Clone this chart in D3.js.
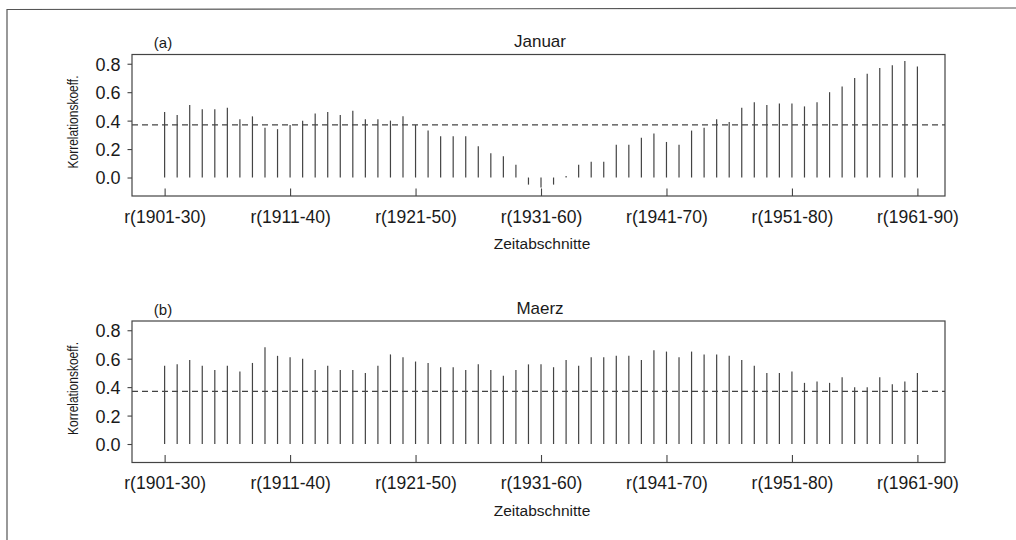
<!DOCTYPE html>
<html>
<head>
<meta charset="utf-8">
<script src="https://cdn.jsdelivr.net/npm/d3@7"></script>
<style>
  body { margin: 0; background: #fff; }
  text { font-family: Arial, 'Liberation Sans', sans-serif; fill: #1a1a1a; }
</style>
</head>
<body>
<script>
// 30-year moving windows r(1901-30) ... r(1961-90)
var startYears = d3.range(1901, 1962);
var tickLabels = ['r(1901-30)', 'r(1911-40)', 'r(1921-50)', 'r(1931-60)', 'r(1941-70)', 'r(1951-80)', 'r(1961-90)'];
var yTicks = [0.0, 0.2, 0.4, 0.6, 0.8];
var threshold = 0.37;

var januar = [
  0.46, 0.44, 0.51, 0.48, 0.48, 0.49, 0.41, 0.43, 0.35, 0.34,
  0.37, 0.40, 0.45, 0.46, 0.44, 0.47, 0.41, 0.41, 0.40, 0.43,
  0.37, 0.33, 0.29, 0.29, 0.29, 0.22, 0.17, 0.15, 0.09, -0.05,
  -0.07, -0.05, 0.01, 0.09, 0.11, 0.11, 0.23, 0.23, 0.28, 0.31,
  0.25, 0.23, 0.33, 0.35, 0.41, 0.39, 0.49, 0.53, 0.51, 0.52,
  0.52, 0.50, 0.53, 0.60, 0.64, 0.70, 0.73, 0.77, 0.79, 0.82,
  0.78
];

var maerz = [
  0.55, 0.56, 0.59, 0.55, 0.52, 0.55, 0.51, 0.57, 0.68, 0.62,
  0.61, 0.60, 0.52, 0.55, 0.52, 0.52, 0.50, 0.55, 0.63, 0.61,
  0.58, 0.57, 0.54, 0.54, 0.52, 0.56, 0.52, 0.48, 0.52, 0.56,
  0.56, 0.54, 0.59, 0.55, 0.61, 0.61, 0.62, 0.62, 0.59, 0.66,
  0.65, 0.61, 0.65, 0.63, 0.63, 0.62, 0.59, 0.55, 0.50, 0.50,
  0.51, 0.43, 0.44, 0.43, 0.47, 0.40, 0.40, 0.47, 0.42, 0.44,
  0.50
];

var panels = [
  {tag: '(a)', title: 'Januar', values: januar, top: 0},
  {tag: '(b)', title: 'Maerz', values: maerz, top: 266.5}
];

var width = 1016;
var height = 540;
var box = {left: 132, right: 945, top: 54.5, bottom: 196};

var svg = d3.select('body').append('svg')
    .attr('width', width)
    .attr('height', height);

// scanned page border
svg.append('path')
    .attr('d', 'M7,540 L7,9.5 L1016,8')
    .attr('fill', 'none')
    .attr('stroke', '#555')
    .attr('stroke-width', 1.2);

var x = d3.scaleLinear()
    .domain([-2.6, 62.2])
    .range([box.left, box.right]);

var y = d3.scaleLinear()
    .domain([-0.13, 0.865])
    .range([box.bottom, box.top]);

panels.forEach(function (p) {
  var g = svg.append('g')
      .attr('transform', 'translate(0,' + p.top + ')');

  // spikes from zero
  g.append('g')
      .selectAll('line')
      .data(p.values)
      .enter().append('line')
      .attr('x1', function (d, i) { return x(i); })
      .attr('x2', function (d, i) { return x(i); })
      .attr('y1', y(0))
      .attr('y2', function (d) { return y(d); })
      .attr('stroke', '#444')
      .attr('stroke-width', 1.2);

  // significance level
  g.append('line')
      .attr('x1', box.left)
      .attr('x2', box.right)
      .attr('y1', y(threshold))
      .attr('y2', y(threshold))
      .attr('stroke', '#444')
      .attr('stroke-width', 1.1)
      .attr('stroke-dasharray', '6,4');

  // frame
  g.append('rect')
      .attr('x', box.left)
      .attr('y', box.top)
      .attr('width', box.right - box.left)
      .attr('height', box.bottom - box.top)
      .attr('fill', 'none')
      .attr('stroke', '#444')
      .attr('stroke-width', 1.2);

  // y axis
  var yAxis = d3.axisLeft(y)
      .tickValues(yTicks)
      .tickFormat(d3.format('.1f'))
      .tickSize(4.5)
      .tickPadding(7);

  var ya = g.append('g')
      .attr('transform', 'translate(' + box.left + ',0)')
      .call(yAxis);
  ya.select('.domain').remove();
  ya.selectAll('line').attr('stroke', '#444').attr('stroke-width', 1.1);
  ya.selectAll('text')
      .style('font-size', '18px')
      .attr('dy', '0.36em')
      .attr('fill', '#1a1a1a');

  // x axis, ticks drawn inward from the frame bottom
  var xAxis = d3.axisBottom(x)
      .tickValues(d3.range(0, 61, 10))
      .tickFormat(function (d, i) { return tickLabels[i]; })
      .tickSizeInner(-7.5)
      .tickSizeOuter(0)
      .tickPadding(14.5);

  var xa = g.append('g')
      .attr('transform', 'translate(0,' + box.bottom + ')')
      .call(xAxis);
  xa.select('.domain').remove();
  xa.selectAll('line').attr('stroke', '#444').attr('stroke-width', 1.1);
  xa.selectAll('text')
      .style('font-size', '17.5px')
      .attr('fill', '#1a1a1a');

  g.append('text')
      .attr('x', 542)
      .attr('y', 249)
      .attr('text-anchor', 'middle')
      .style('font-size', '15.5px')
      .text('Zeitabschnitte');

  g.append('text')
      .attr('transform', 'translate(78,122) rotate(-90)')
      .attr('text-anchor', 'middle')
      .attr('textLength', 93)
      .attr('lengthAdjust', 'spacingAndGlyphs')
      .style('font-size', '15px')
      .text('Korrelationskoeff.');

  g.append('text')
      .attr('x', 540)
      .attr('y', 47)
      .attr('text-anchor', 'middle')
      .style('font-size', '17px')
      .text(p.title);

  g.append('text')
      .attr('x', 163)
      .attr('y', 48)
      .attr('text-anchor', 'middle')
      .style('font-size', '15px')
      .text(p.tag);
});
</script>
</body>
</html>
